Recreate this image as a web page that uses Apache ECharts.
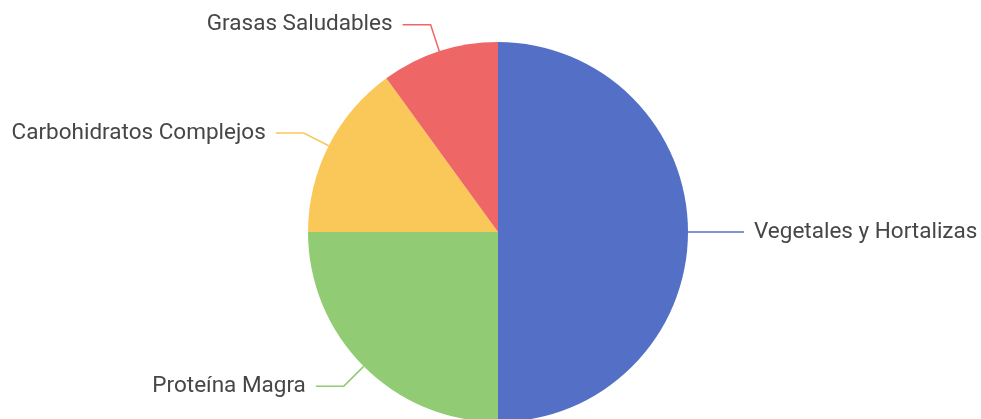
<!DOCTYPE html>
<html><head><meta charset="utf-8">
<script src="https://cdn.jsdelivr.net/npm/echarts@6/dist/echarts.min.js"></script>
<style>html,body{margin:0;padding:0;background:#fff}#c{width:981px;height:419px}</style>
</head><body><div id="c"></div>
<script>
const categories = ['Vegetales y Hortalizas', 'Proteína Magra', 'Carbohidratos Complejos', 'Grasas Saludables'];
const values = [50, 25, 15, 10];
const chart = echarts.init(document.getElementById('c'));
chart.setOption({
  animation: false,
  color: ['#5470c6', '#91cc75', '#fac858', '#ee6666'],
  series: [{
    type: 'pie',
    center: [498, 232],
    radius: 190,
    data: categories.map((n, i) => ({ name: n, value: values[i] })),
    label: { fontSize: 22.5, color: '#464646', fontFamily: 'Roboto', distanceToLabelLine: 10, overflow: 'none' },
    labelLine: { length: 28, length2: 28, lineStyle: { width: 1.5 } }
  }]
});
</script></body></html>
